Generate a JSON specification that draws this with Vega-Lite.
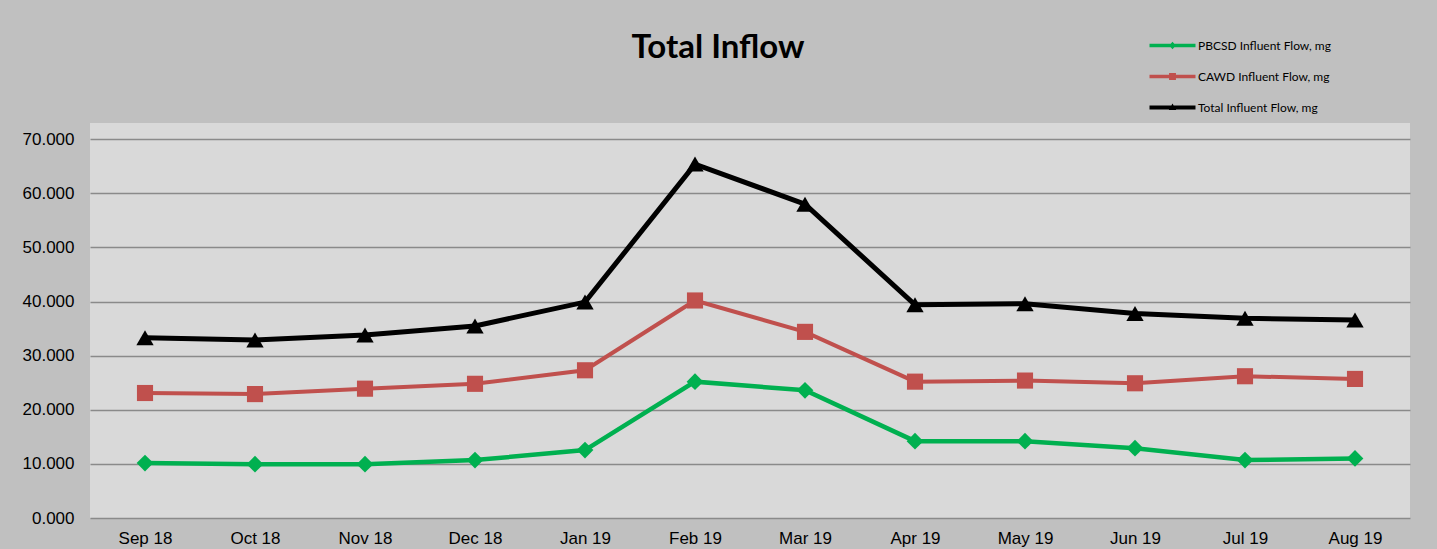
{
  "$schema": "https://vega.github.io/schema/vega-lite/v6.json",
  "width": 1320,
  "height": 395,
  "autosize": {"type": "none"},
  "padding": {"left": 90, "top": 123, "right": 27, "bottom": 31},
  "background": "#c0c0c0",
  "title": {
    "text": "Total Inflow",
    "font": "Lato",
    "fontSize": 33,
    "fontWeight": "bold",
    "color": "#000000",
    "anchor": "middle",
    "frame": "group",
    "dx": -32,
    "offset": -31
  },
  "config": {
    "view": {"fill": "#d9d9d9", "stroke": null},
    "axis": {"labelFont": "Liberation Sans", "labelFontSize": 17, "labelColor": "#000000"}
  },
  "data": {
    "values": [
      {"month": "Sep 18", "series": "PBCSD Influent Flow, mg", "value": 10.16},
      {"month": "Oct 18", "series": "PBCSD Influent Flow, mg", "value": 9.95},
      {"month": "Nov 18", "series": "PBCSD Influent Flow, mg", "value": 9.95},
      {"month": "Dec 18", "series": "PBCSD Influent Flow, mg", "value": 10.7},
      {"month": "Jan 19", "series": "PBCSD Influent Flow, mg", "value": 12.56},
      {"month": "Feb 19", "series": "PBCSD Influent Flow, mg", "value": 25.2},
      {"month": "Mar 19", "series": "PBCSD Influent Flow, mg", "value": 23.6},
      {"month": "Apr 19", "series": "PBCSD Influent Flow, mg", "value": 14.2},
      {"month": "May 19", "series": "PBCSD Influent Flow, mg", "value": 14.2},
      {"month": "Jun 19", "series": "PBCSD Influent Flow, mg", "value": 12.9},
      {"month": "Jul 19", "series": "PBCSD Influent Flow, mg", "value": 10.7},
      {"month": "Aug 19", "series": "PBCSD Influent Flow, mg", "value": 11.0},
      {"month": "Sep 18", "series": "CAWD Influent Flow, mg", "value": 23.1},
      {"month": "Oct 18", "series": "CAWD Influent Flow, mg", "value": 22.9},
      {"month": "Nov 18", "series": "CAWD Influent Flow, mg", "value": 23.9},
      {"month": "Dec 18", "series": "CAWD Influent Flow, mg", "value": 24.8},
      {"month": "Jan 19", "series": "CAWD Influent Flow, mg", "value": 27.3},
      {"month": "Feb 19", "series": "CAWD Influent Flow, mg", "value": 40.2},
      {"month": "Mar 19", "series": "CAWD Influent Flow, mg", "value": 34.4},
      {"month": "Apr 19", "series": "CAWD Influent Flow, mg", "value": 25.2},
      {"month": "May 19", "series": "CAWD Influent Flow, mg", "value": 25.4},
      {"month": "Jun 19", "series": "CAWD Influent Flow, mg", "value": 24.9},
      {"month": "Jul 19", "series": "CAWD Influent Flow, mg", "value": 26.2},
      {"month": "Aug 19", "series": "CAWD Influent Flow, mg", "value": 25.7},
      {"month": "Sep 18", "series": "Total Influent Flow, mg", "value": 33.3},
      {"month": "Oct 18", "series": "Total Influent Flow, mg", "value": 32.9},
      {"month": "Nov 18", "series": "Total Influent Flow, mg", "value": 33.8},
      {"month": "Dec 18", "series": "Total Influent Flow, mg", "value": 35.5},
      {"month": "Jan 19", "series": "Total Influent Flow, mg", "value": 39.9},
      {"month": "Feb 19", "series": "Total Influent Flow, mg", "value": 65.4},
      {"month": "Mar 19", "series": "Total Influent Flow, mg", "value": 58.0},
      {"month": "Apr 19", "series": "Total Influent Flow, mg", "value": 39.4},
      {"month": "May 19", "series": "Total Influent Flow, mg", "value": 39.6},
      {"month": "Jun 19", "series": "Total Influent Flow, mg", "value": 37.8},
      {"month": "Jul 19", "series": "Total Influent Flow, mg", "value": 36.9},
      {"month": "Aug 19", "series": "Total Influent Flow, mg", "value": 36.6}
    ]
  },
  "encoding": {
    "x": {
      "field": "month",
      "type": "ordinal",
      "sort": null,
      "scale": {"type": "point", "padding": 0.5},
      "axis": {"title": null, "labelAngle": 0, "domain": false, "ticks": false, "grid": false, "labelPadding": 12}
    },
    "y": {
      "field": "value",
      "type": "quantitative",
      "scale": {"domain": [0, 73], "nice": false, "zero": true},
      "axis": {
        "title": null,
        "values": [0, 10, 20, 30, 40, 50, 60, 70],
        "format": ".3f",
        "domain": false,
        "ticks": false,
        "labelPadding": 16,
        "gridColor": "#8a8a8a",
        "gridWidth": 1.5,
        "gridOpacity": 1
      }
    },
    "color": {
      "field": "series",
      "type": "nominal",
      "scale": {
        "domain": ["PBCSD Influent Flow, mg", "CAWD Influent Flow, mg", "Total Influent Flow, mg"],
        "range": ["#00b050", "#c0504d", "#000000"]
      },
      "legend": {
        "title": null,
        "orient": "none",
        "legendX": 1071,
        "legendY": -89,
        "padding": 0,
        "labelFont": "Lato",
        "labelFontSize": 12,
        "labelColor": "#000000",
        "symbolSize": 529,
        "labelOffset": 14,
        "rowPadding": 13,
        "encode": {
          "symbols": {
            "update": {
              "fill": {"scale": "color", "field": "value"},
              "stroke": {"value": "transparent"},
              "strokeWidth": {"value": 0},
              "size": {"value": 529},
              "shape": {"signal": "datum.value === 'PBCSD Influent Flow, mg' ? 'M-2,-0.16H2V0.16H-2Z M0,-0.32L0.3,0L0,0.32L-0.3,0Z' : datum.value === 'CAWD Influent Flow, mg' ? 'M-2,-0.16H2V0.16H-2Z M-0.3,-0.3H0.3V0.3H-0.3Z' : 'M-2,-0.18H2V0.18H-2Z M0,-0.34L0.32,0.22H-0.32Z'"}
            }
          }
        }
      }
    }
  },
  "layer": [
    {
      "transform": [{"filter": "datum.series === 'PBCSD Influent Flow, mg'"}],
      "mark": {"type": "line", "strokeWidth": 4.5}
    },
    {
      "transform": [{"filter": "datum.series === 'CAWD Influent Flow, mg'"}],
      "mark": {"type": "line", "strokeWidth": 4}
    },
    {
      "transform": [{"filter": "datum.series === 'Total Influent Flow, mg'"}],
      "mark": {"type": "line", "strokeWidth": 5}
    },
    {
      "transform": [{"filter": "datum.series === 'PBCSD Influent Flow, mg'"}],
      "mark": {"type": "point", "filled": true, "opacity": 1, "shape": "diamond", "size": 280}
    },
    {
      "transform": [{"filter": "datum.series === 'CAWD Influent Flow, mg'"}],
      "mark": {"type": "point", "filled": true, "opacity": 1, "shape": "square", "size": 260}
    },
    {
      "transform": [{"filter": "datum.series === 'Total Influent Flow, mg'"}],
      "mark": {"type": "point", "filled": true, "opacity": 1, "shape": "triangle-up", "size": 300}
    }
  ]
}
